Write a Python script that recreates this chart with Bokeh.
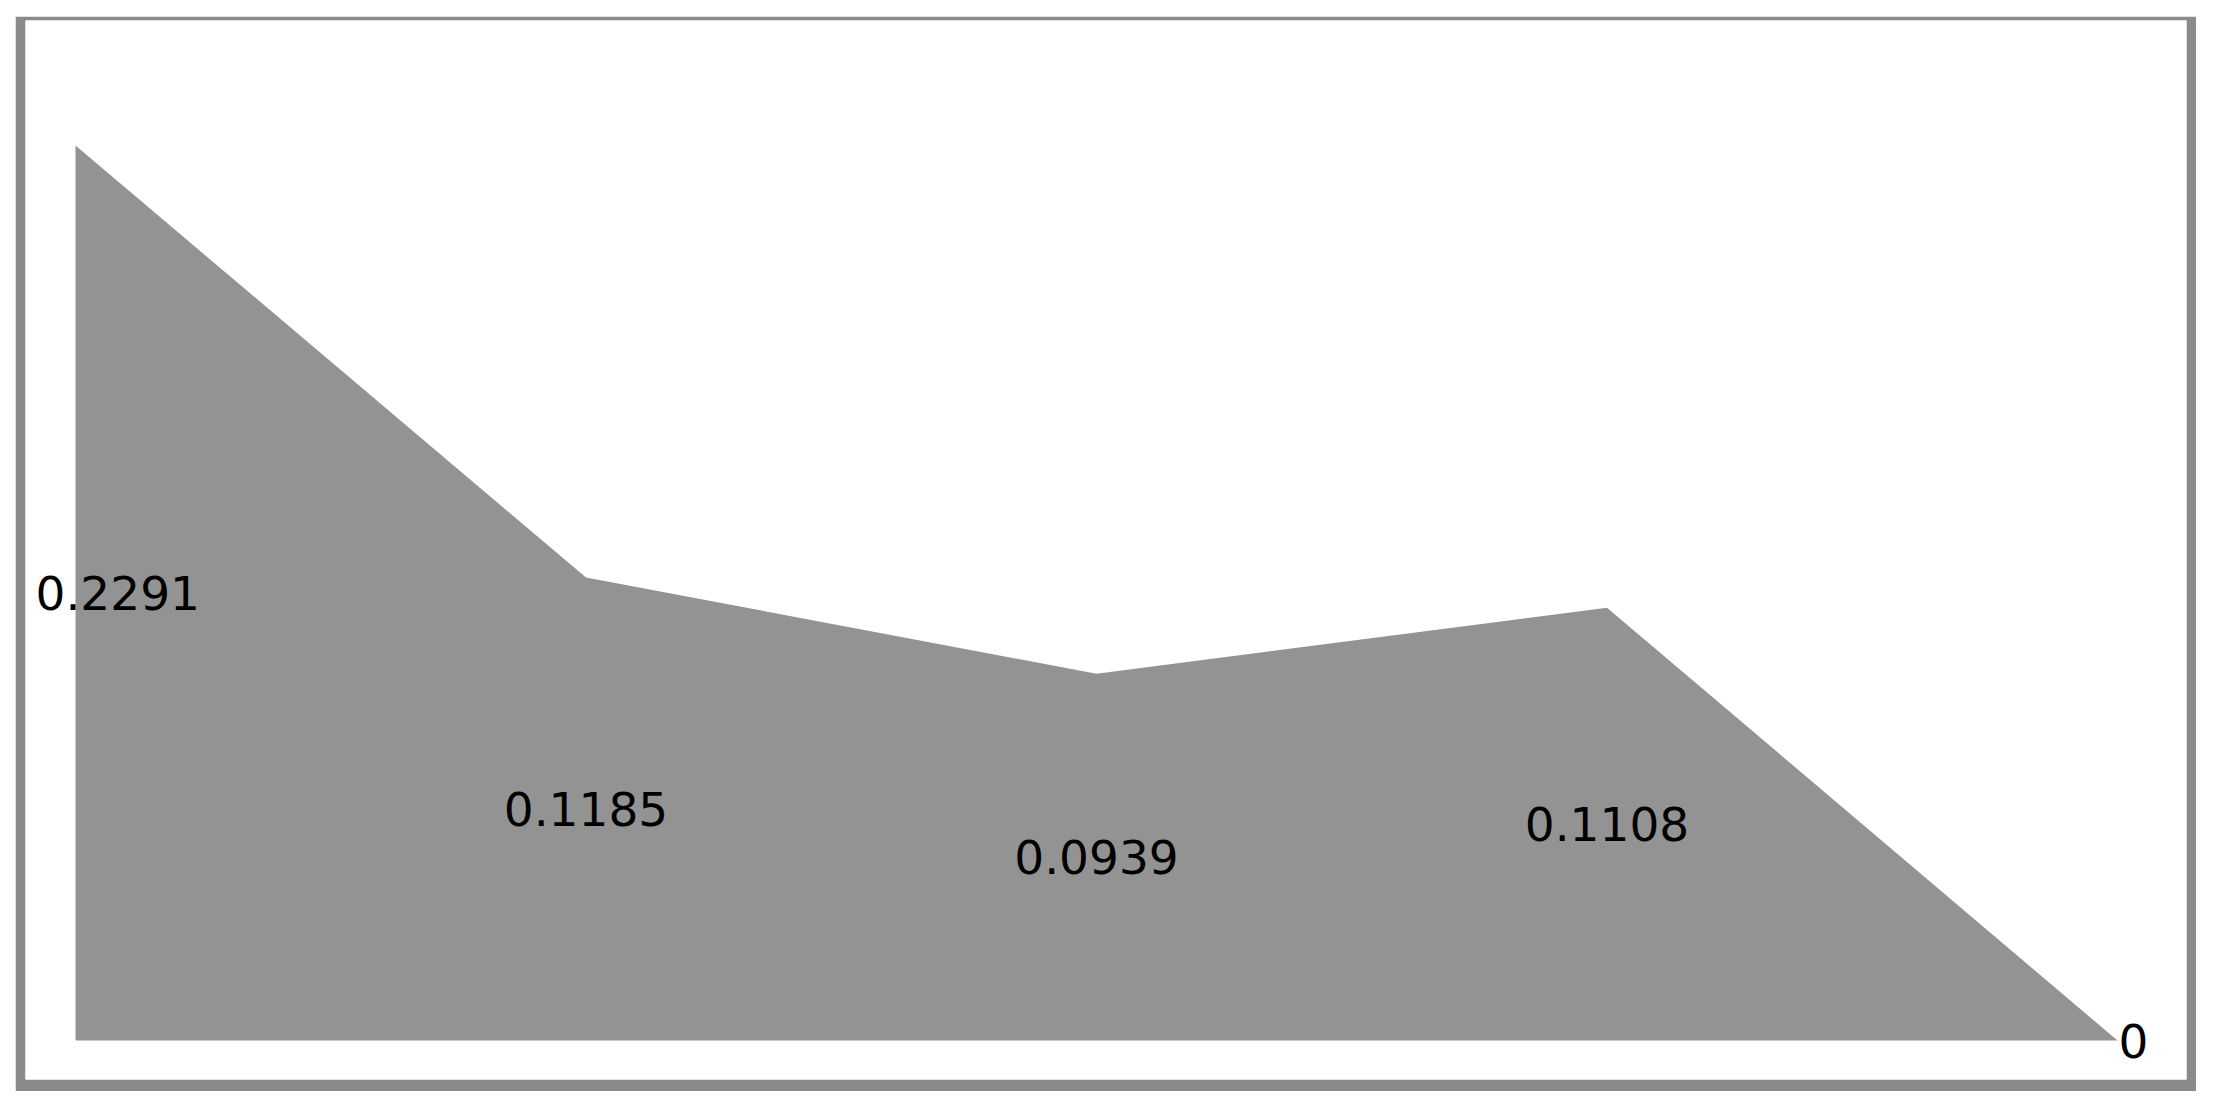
from bokeh.plotting import figure
from bokeh.models import ColumnDataSource, Range1d
from bokeh.embed import file_html
from bokeh.resources import INLINE
from bokeh.core.properties import value

# ---- data ----
positions = [0, 1, 2, 3, 4]
values = [0.2291, 0.1185, 0.0939, 0.1108, 0.0]
labels = ["0.2291", "0.1185", "0.0939", "0.1108", "0"]

# ---- styling (not data) ----
label_align = ["left", "center", "center", "center", "center"]
label_dx = [-40, 0, 0, 0, 16]

AREA = "#939393"
BORDER = "#8a8a8a"

p = figure(
    width=2181, height=1075,
    output_backend="svg", toolbar_location=None,
    x_axis_type=None, y_axis_type=None,
    x_range=Range1d(-0.09794, 4.1352), y_range=Range1d(-0.009983, 0.26110),
    min_border_left=10, min_border_right=10, min_border_top=4, min_border_bottom=12,
    border_fill_color=BORDER, background_fill_color="white",
    outline_line_color=None,
)
p.margin = (16, 0, 0, 15)
p.grid.visible = False

p.varea(x=positions, y1=[0] * len(values), y2=values, fill_color=AREA, fill_alpha=1.0)

src = ColumnDataSource(dict(
    x=positions,
    y=[v / 2 for v in values],
    text=labels,
    align=label_align,
    dx=label_dx,
))
p.text(x="x", y="y", text="text", source=src, text_align="align", x_offset="dx",
       text_baseline="middle", text_font=value("DejaVu Sans"),
       text_font_size="47px", text_color="black")

open("out.html", "w").write(file_html(p, INLINE))
